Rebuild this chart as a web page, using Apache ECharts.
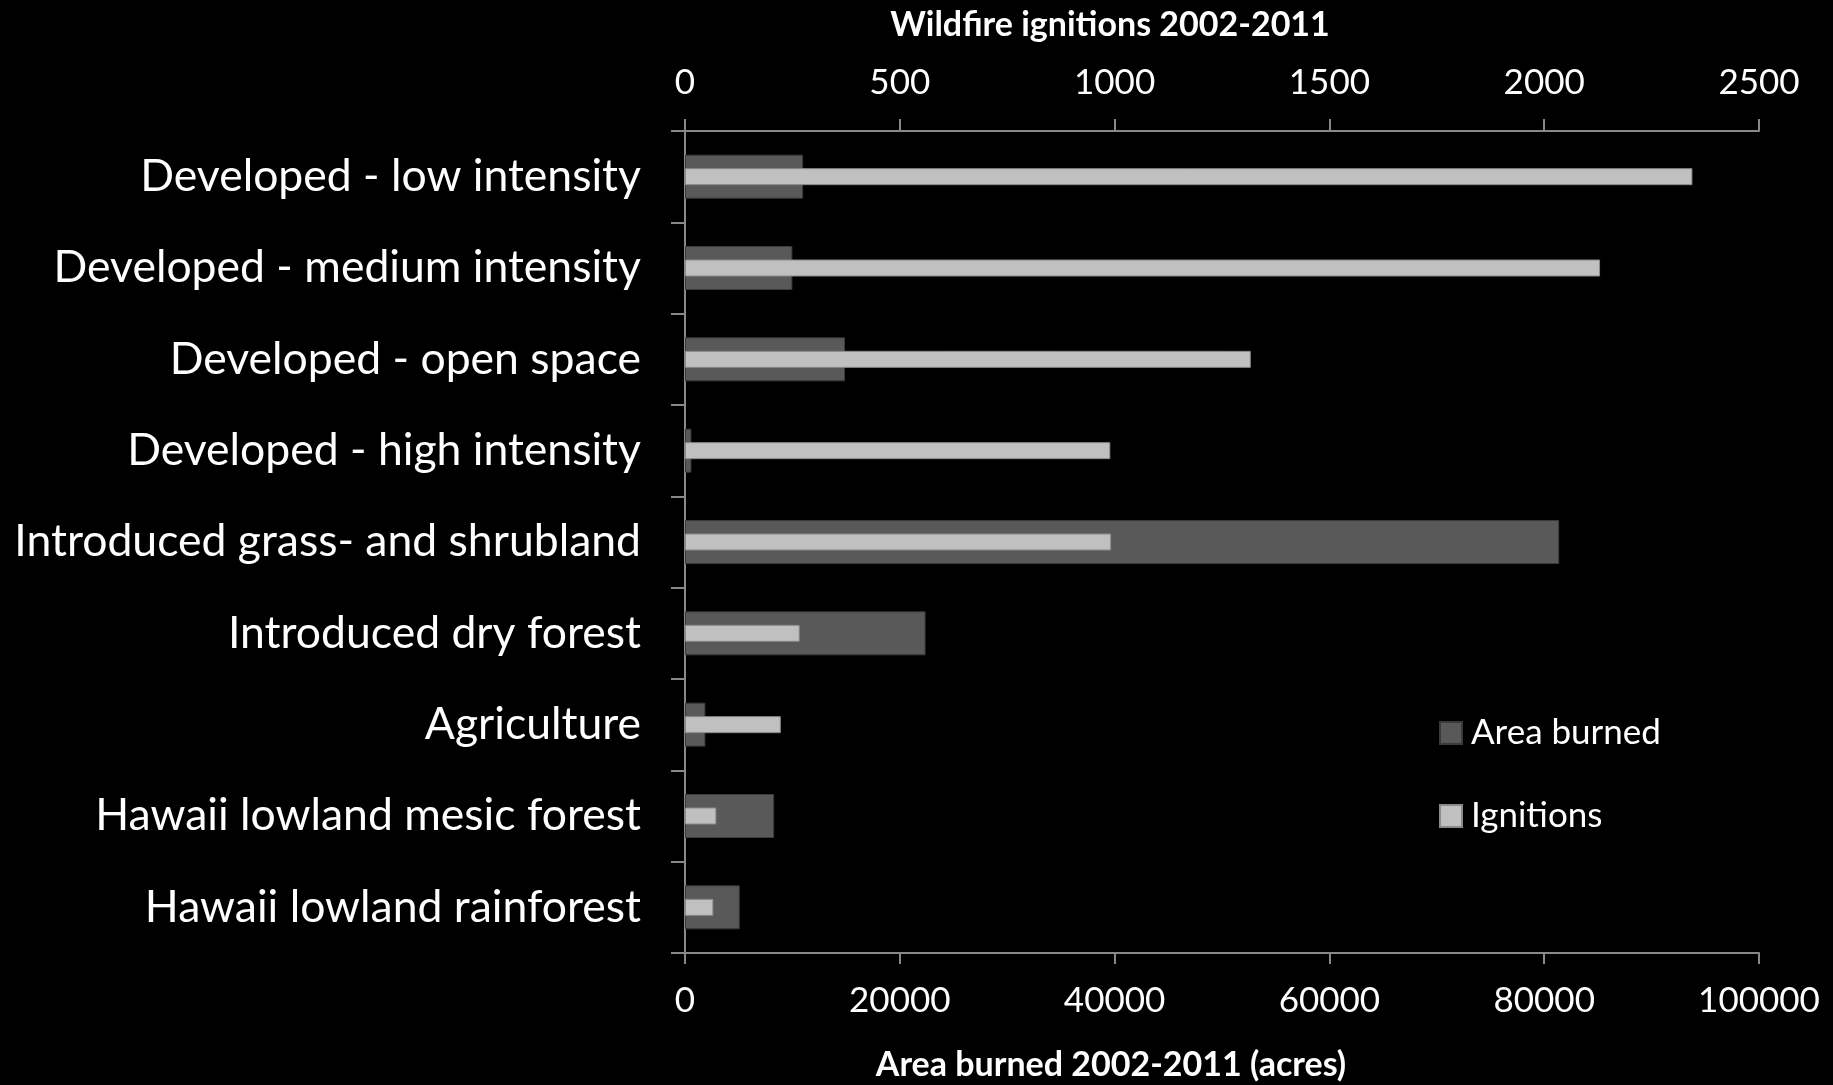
<!DOCTYPE html>
<html>
<head>
<meta charset="utf-8">
<style>
html,body{margin:0;padding:0;background:#000;}
#chart{width:1833px;height:1085px;}
</style>
<script src="https://cdn.jsdelivr.net/npm/echarts@6/dist/echarts.min.js"></script>
</head>
<body>
<div id="chart"></div>
<script>
const categories = [
  'Developed - low intensity',
  'Developed - medium intensity',
  'Developed - open space',
  'Developed - high intensity',
  'Introduced grass- and shrubland',
  'Introduced dry forest',
  'Agriculture',
  'Hawaii lowland mesic forest',
  'Hawaii lowland rainforest'
];
const areaBurned = [11000, 10000, 14900, 600, 81400, 22400, 1900, 8300, 5100];
const ignitions = [2345, 2130, 1317, 990, 992, 267, 223, 73, 66];
const areaTicks = { min: 0, max: 100000, interval: 20000 };
const ignitionTicks = { min: 0, max: 2500, interval: 500 };

const FONT = 'Lato';
const axisColor = '#888888';
const plain = v => String(v);
const chart = echarts.init(document.getElementById('chart'));
chart.setOption({
  backgroundColor: '#000000',
  animation: false,
  textStyle: { fontFamily: FONT },
  grid: { left: 685, right: 74, top: 131, bottom: 132, containLabel: false },
  legend: {
    orient: 'vertical',
    left: 1439,
    top: 713,
    padding: 0,
    itemWidth: 22,
    itemHeight: 22,
    itemGap: 43,
    icon: 'rect',
    data: ['Area burned', 'Ignitions'],
    textStyle: { color: '#ffffff', fontSize: 35, fontFamily: FONT, lineHeight: 40, padding: [0, 0, 0, 4] }
  },
  graphic: [
    { type: 'text', x: 1110, y: 25, style: { text: 'Wildfire ignitions 2002-2011', fill: '#ffffff', font: 'bold 34px ' + FONT, textAlign: 'center', textVerticalAlign: 'middle' } },
    { type: 'text', x: 1111, y: 1065, style: { text: 'Area burned 2002-2011 (acres)', fill: '#ffffff', font: 'bold 34px ' + FONT, textAlign: 'center', textVerticalAlign: 'middle' } }
  ],
  xAxis: [
    {
      type: 'value', position: 'bottom',
      min: areaTicks.min, max: areaTicks.max, interval: areaTicks.interval,
      axisLine: { show: true, lineStyle: { color: axisColor, width: 2 } },
      axisTick: { show: true, length: 11, lineStyle: { color: axisColor, width: 2 } },
      splitLine: { show: false },
      axisLabel: { color: '#ffffff', fontSize: 35, margin: 30, fontFamily: FONT, formatter: plain }
    },
    {
      type: 'value', position: 'top',
      min: ignitionTicks.min, max: ignitionTicks.max, interval: ignitionTicks.interval,
      axisLine: { show: true, lineStyle: { color: axisColor, width: 2 } },
      axisTick: { show: true, length: 12, lineStyle: { color: axisColor, width: 2 } },
      splitLine: { show: false },
      axisLabel: { color: '#ffffff', fontSize: 35, margin: 31, fontFamily: FONT, formatter: plain }
    }
  ],
  yAxis: [
    {
      type: 'category', data: categories, inverse: true,
      axisLine: { show: true, lineStyle: { color: axisColor, width: 2 } },
      axisTick: { show: true, length: 14, lineStyle: { color: axisColor, width: 2 } },
      axisLabel: { color: '#ffffff', fontSize: 44.5, margin: 44, fontFamily: FONT }
    },
    {
      type: 'category', data: categories, inverse: true, position: 'left',
      axisLine: { show: false }, axisTick: { show: false }, axisLabel: { show: false }
    }
  ],
  series: [
    {
      name: 'Area burned', type: 'bar', xAxisIndex: 0, yAxisIndex: 0,
      data: areaBurned, barWidth: 44,
      itemStyle: { color: '#595959', borderColor: '#3a3a3a', borderWidth: 1 }
    },
    {
      name: 'Ignitions', type: 'bar', xAxisIndex: 1, yAxisIndex: 1,
      data: ignitions, barWidth: 17, z: 3,
      itemStyle: { color: '#c0c0c0', borderColor: '#8a8a8a', borderWidth: 1 }
    }
  ]
});
</script>
</body>
</html>
